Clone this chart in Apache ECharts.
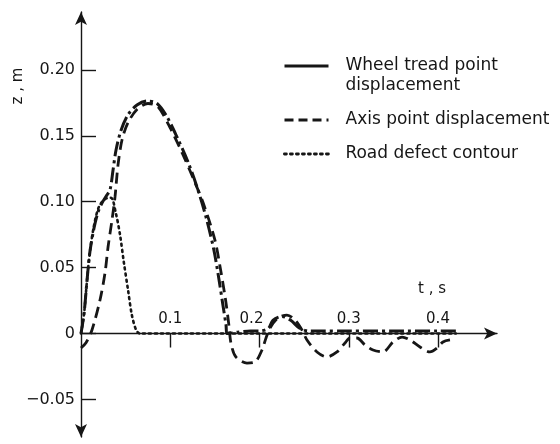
<!DOCTYPE html>
<html>
<head>
<meta charset="utf-8">
<script src="https://cdn.jsdelivr.net/npm/echarts@6/dist/echarts.min.js"></script>
<style>html,body{margin:0;padding:0;background:#fff}#c{width:560px;height:444px}</style>
</head>
<body>
<div id="c"></div>
<script>
// ---- data (t in s, z in m) ----
var wheelT = [0, 0.0034, 0.0067, 0.010, 0.0146, 0.019, 0.0235, 0.028, 0.0325, 0.0359, 0.0392, 0.0448, 0.0527, 0.0627, 0.074, 0.0852, 0.0964, 0.1076, 0.12, 0.131, 0.141, 0.149, 0.1546, 0.159, 0.1625, 0.1636, 0.175, 0.19, 0.2, 0.21, 0.215, 0.225, 0.235, 0.245, 0.255, 0.27, 0.3, 0.35, 0.4, 0.42];
var wheelZ = [0, 0.015, 0.04, 0.062, 0.08, 0.092, 0.099, 0.104, 0.109, 0.124, 0.139, 0.154, 0.166, 0.1733, 0.1764, 0.1745, 0.1643, 0.149, 0.130, 0.109, 0.086, 0.063, 0.041, 0.0216, 0.0064, 0, 0.001, 0.002, 0.002, 0.004, 0.01, 0.013, 0.01, 0.004, 0.002, 0.002, 0.002, 0.002, 0.002, 0.002];

var axisT = [0, 0.0056, 0.0123, 0.0213, 0.0269, 0.0303, 0.0347, 0.0381, 0.0415, 0.046, 0.0527, 0.0627, 0.075, 0.0863, 0.1007, 0.114, 0.1265, 0.1377, 0.15, 0.1565, 0.162, 0.1657, 0.168, 0.1735, 0.186, 0.195, 0.2028, 0.2073, 0.2118, 0.2207, 0.2308, 0.2398, 0.2476, 0.2532, 0.2644, 0.2756, 0.2868, 0.2958, 0.3014, 0.3092, 0.3182, 0.3272, 0.3384, 0.3496, 0.3597, 0.3686, 0.3798, 0.391, 0.3989, 0.4056, 0.4134];
var axisZ = [-0.011, -0.007, 0.0027, 0.0254, 0.046, 0.0656, 0.086, 0.1036, 0.128, 0.147, 0.160, 0.170, 0.1745, 0.172, 0.155, 0.136, 0.1165, 0.0975, 0.071, 0.048, 0.0254, 0.0064, -0.0072, -0.0178, -0.0224, -0.0216, -0.0125, -0.0034, 0.0042, 0.0118, 0.014, 0.0102, 0.0027, -0.0049, -0.014, -0.0178, -0.014, -0.0072, -0.0034, -0.0034, -0.0087, -0.0125, -0.014, -0.0064, -0.0027, -0.0049, -0.0102, -0.014, -0.011, -0.0064, -0.0049];

var roadT = [0, 0.0034, 0.0067, 0.010, 0.0146, 0.020, 0.027, 0.0336, 0.039, 0.0437, 0.048, 0.0527, 0.057, 0.0616, 0.066, 0.42];
var roadZ = [0, 0.015, 0.04, 0.062, 0.082, 0.096, 0.102, 0.103, 0.0914, 0.075, 0.054, 0.033, 0.014, 0.003, 0, 0];

var xTicks = [0.1, 0.2, 0.3, 0.4];
var yTicks = [-0.05, 0, 0.05, 0.10, 0.15, 0.20];
var seriesNames = ['Wheel tread point displacement', 'Axis point displacement', 'Road defect contour'];

function pairs(t, z) { return t.map(function (v, i) { return [v, z[i]]; }); }

var FONT = 'DejaVu Sans';
var INK = '#161616';
var Y_MIN = -0.0785, Y_MAX = 0.2439, GRID_TOP = 12, GRID_H = 425;
// distance of the zero line above the grid bottom (x axis drawn on z = 0)
var zeroOffset = -GRID_H * (0 - Y_MIN) / (Y_MAX - Y_MIN);

var legendText = { fontFamily: FONT, fontSize: 17, color: INK, lineHeight: 20, padding: [0, 0, 0, 12] };
var hiddenSymbol = { opacity: 0 };
var wheelLine = { color: INK, width: 3, type: [15, 4, 3, 4] };
var axisLine = { color: INK, width: 2.8, type: [11, 6] };
var roadLine = { color: INK, width: 2.6, type: [2, 4], cap: 'round' };

var chart = echarts.init(document.getElementById('c'), null, { renderer: 'canvas' });
chart.setOption({
  animation: false,
  backgroundColor: '#fff',
  grid: { left: 81, top: GRID_TOP, width: 416, height: GRID_H, containLabel: false },
  xAxis: {
    type: 'value', min: 0, max: 0.4661, offset: zeroOffset,
    axisLine: { onZero: false, lineStyle: { color: INK, width: 1.4 }, symbol: ['none', 'arrow'], symbolSize: [9, 13] },
    axisTick: { customValues: xTicks, length: 14, lineStyle: { color: INK, width: 1.4 } },
    axisLabel: { customValues: xTicks, inside: true, margin: 7, color: INK, fontFamily: FONT, fontSize: 15,
      rich: { sh: { fontFamily: FONT, fontSize: 15, color: INK, padding: [0, 16, 0, 0] } },
      formatter: function (v) { var s = v.toFixed(1); return Math.abs(v - 0.2) < 1e-9 ? '{sh|' + s + '}' : s; } },
    splitLine: { show: false }
  },
  yAxis: {
    type: 'value', min: Y_MIN, max: Y_MAX,
    axisLine: { lineStyle: { color: INK, width: 1.4 }, symbol: ['arrow', 'arrow'], symbolSize: [9, 13] },
    axisTick: { customValues: yTicks, inside: true, length: 15, lineStyle: { color: INK, width: 1.4 } },
    axisLabel: { customValues: yTicks, margin: 6, color: INK, fontFamily: FONT, fontSize: 16,
      formatter: function (v) { return Math.abs(v) < 1e-9 ? '0' : (v < 0 ? '\u2212' + (-v).toFixed(2) : v.toFixed(2)); } },
    splitLine: { show: false }
  },
  legend: [
    { left: 283, top: 36, padding: 0, itemWidth: 44, itemHeight: 14, orient: 'vertical', selectedMode: false,
      itemStyle: hiddenSymbol,
      data: [{ name: seriesNames[0], lineStyle: { type: 'solid', width: 3, color: INK } }],
      formatter: function () { return '\nWheel tread point\ndisplacement'; },
      textStyle: legendText },
    { left: 283, top: 110, padding: 0, itemWidth: 44, itemHeight: 14, selectedMode: false,
      itemStyle: hiddenSymbol,
      data: [{ name: seriesNames[1], lineStyle: { type: [9, 5], width: 3, color: INK } }],
      textStyle: legendText },
    { left: 283, top: 144, padding: 0, itemWidth: 44, itemHeight: 14, selectedMode: false,
      itemStyle: hiddenSymbol,
      data: [{ name: seriesNames[2], lineStyle: { type: [2, 4], width: 2.8, color: INK, cap: 'round' } }],
      textStyle: legendText }
  ],
  graphic: [
    { type: 'text', x: 18, y: 86, rotation: Math.PI / 2,
      style: { text: 'z , m', fontFamily: FONT, fontSize: 15, fill: INK, align: 'center', verticalAlign: 'middle' } },
    { type: 'text', x: 432, y: 289,
      style: { text: 't , s', fontFamily: FONT, fontSize: 15, fill: INK, align: 'center', verticalAlign: 'middle' } }
  ],
  series: [
    { name: seriesNames[0], type: 'line', data: pairs(wheelT, wheelZ), smooth: 0.3, symbol: 'none', z: 3,
      itemStyle: { color: INK }, lineStyle: wheelLine },
    { name: seriesNames[1], type: 'line', data: pairs(axisT, axisZ), smooth: 0.3, symbol: 'none', z: 2,
      itemStyle: { color: INK }, lineStyle: axisLine },
    { name: seriesNames[2], type: 'line', data: pairs(roadT, roadZ), smooth: 0.3, symbol: 'none', z: 4,
      itemStyle: { color: INK }, lineStyle: roadLine }
  ]
});
</script>
</body>
</html>
